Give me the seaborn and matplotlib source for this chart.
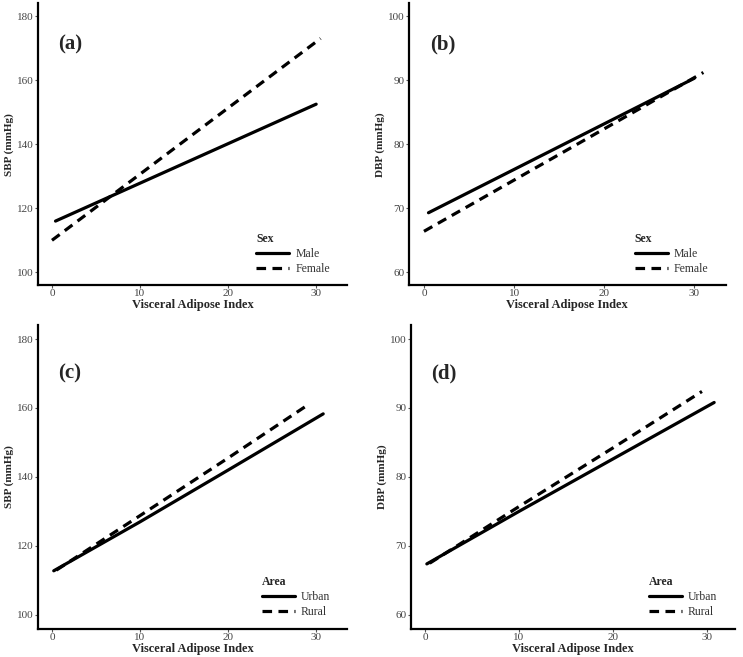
import matplotlib
matplotlib.use("Agg")
import matplotlib.pyplot as plt
import seaborn as sns
import pandas as pd

sns.set_theme(style="ticks")
plt.rcParams['font.family'] = ['Liberation Serif', 'DejaVu Serif']

# Panel (a): SBP by sex
a_male_x = [0.4, 30.0]
a_male_y = [116.0, 152.5]
a_female_x = [0.0, 30.5]
a_female_y = [110.0, 173.0]

# Panel (b): DBP by sex
b_male_x = [0.5, 30.0]
b_male_y = [69.3, 90.3]
b_female_x = [0.0, 31.0]
b_female_y = [66.4, 91.2]

# Panel (c): SBP by area
c_urban_x = [0.2, 10.0, 20.0, 30.8]
c_urban_y = [112.8, 127.0, 142.0, 158.3]
c_rural_x = [0.5, 10.0, 20.0, 29.0]
c_rural_y = [113.0, 128.8, 145.5, 160.8]

# Panel (d): DBP by area
d_urban_x = [0.2, 10.0, 20.0, 30.8]
d_urban_y = [67.4, 75.0, 82.6, 90.8]
d_rural_x = [0.5, 10.0, 20.0, 29.5]
d_rural_y = [67.5, 75.7, 84.2, 92.4]

def frame(x1, y1, n1, x2, y2, n2, key):
    return pd.DataFrame({
        "x": list(x1) + list(x2),
        "y": list(y1) + list(y2),
        key: [n1] * len(x1) + [n2] * len(x2),
    })

panels = [
    dict(df=frame(a_male_x, a_male_y, "Male", a_female_x, a_female_y, "Female", "Sex"),
         key="Sex", order=["Male", "Female"], ylab="SBP (mmHg)", lab="(a)",
         ylim=(96, 184), yt=[100, 120, 140, 160, 180], xlim=(-1.6, 33.5),
         pos=[0.051, 0.566, 0.416, 0.429], labpos=(0.7, 171)),
    dict(df=frame(b_male_x, b_male_y, "Male", b_female_x, b_female_y, "Female", "Sex"),
         key="Sex", order=["Male", "Female"], ylab="DBP (mmHg)", lab="(b)",
         ylim=(58, 102), yt=[60, 70, 80, 90, 100], xlim=(-1.7, 33.5),
         pos=[0.550, 0.566, 0.427, 0.429], labpos=(0.7, 95.5)),
    dict(df=frame(c_urban_x, c_urban_y, "Urban", c_rural_x, c_rural_y, "Rural", "Area"),
         key="Area", order=["Urban", "Rural"], ylab="SBP (mmHg)", lab="(c)",
         ylim=(96, 184), yt=[100, 120, 140, 160, 180], xlim=(-1.6, 33.5),
         pos=[0.051, 0.043, 0.416, 0.462], labpos=(0.7, 170)),
    dict(df=frame(d_urban_x, d_urban_y, "Urban", d_rural_x, d_rural_y, "Rural", "Area"),
         key="Area", order=["Urban", "Rural"], ylab="DBP (mmHg)", lab="(d)",
         ylim=(58, 102), yt=[60, 70, 80, 90, 100], xlim=(-1.5, 33.0),
         pos=[0.553, 0.043, 0.436, 0.462], labpos=(0.7, 95)),
]

fig = plt.figure(figsize=(7.43, 6.57), dpi=100)
for p in panels:
    ax = fig.add_axes(p["pos"])
    sns.lineplot(data=p["df"], x="x", y="y", style=p["key"], style_order=p["order"],
                 dashes={p["order"][0]: "", p["order"][1]: (3.0, 2.0)},
                 color="black", linewidth=2.3, ax=ax, sort=False, estimator=None)
    ax.set_xlim(*p["xlim"])
    ax.set_ylim(*p["ylim"])
    ax.set_xticks([0, 10, 20, 30])
    ax.set_yticks(p["yt"])
    ax.tick_params(axis="both", labelsize=8, labelcolor="#444444", length=2,
                   width=0.8, color="#555555", pad=1)
    for s in ["top", "right"]:
        ax.spines[s].set_visible(False)
    for s in ["left", "bottom"]:
        ax.spines[s].set_linewidth(1.6)
        ax.spines[s].set_color("black")
    ax.set_xlabel("Visceral Adipose Index", fontsize=9, fontweight="bold", labelpad=0.5)
    ax.set_ylabel(p["ylab"], fontsize=8, fontweight="bold", labelpad=2)
    ax.text(p["labpos"][0], p["labpos"][1], p["lab"], fontsize=15, fontweight="bold",
            va="center", ha="left")
    leg = ax.legend(title=p["key"], loc="lower right", frameon=False, fontsize=8.5,
                    title_fontproperties={"weight": "bold", "size": 8.5},
                    handlelength=2.8, handletextpad=0.5, borderaxespad=0.2,
                    borderpad=0.2, labelspacing=0.25,
                    bbox_to_anchor=(0.96, 0.02))
    leg._legend_box.align = "left"
    for t in leg.get_texts():
        t.set_color("#333333")

fig.savefig("out.png", dpi=100)
